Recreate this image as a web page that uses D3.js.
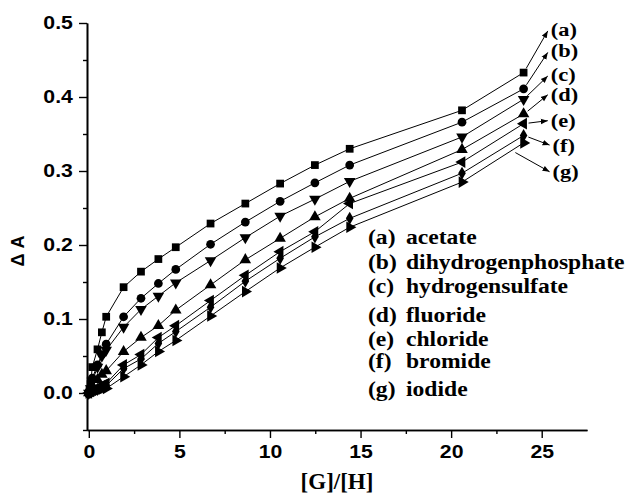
<!DOCTYPE html>
<html>
<head>
<meta charset="utf-8">
<script src="https://cdn.jsdelivr.net/npm/d3@7"></script>
<style>
  body { margin: 0; background: #fff; }
  svg { display: block; }
</style>
</head>
<body>
<div id="chart"></div>
<script>
// [G]/[H] ratios shared by every titration series
const ratios = [0, 0.1, 0.19, 0.48, 0.72, 0.96, 1.92, 2.88, 3.84, 4.8, 6.72, 8.64, 10.56, 12.48, 14.4, 20.6, 24.0];

const acetate     = [0, 0.012, 0.035, 0.059, 0.082, 0.103, 0.143, 0.164, 0.181, 0.197, 0.229, 0.256, 0.283, 0.308, 0.330, 0.382, 0.433];
const dihydrogen  = [0, 0.008, 0.020, 0.038, 0.052, 0.066, 0.103, 0.128, 0.148, 0.167, 0.201, 0.231, 0.259, 0.284, 0.308, 0.366, 0.411];
const hydrogensul = [0, 0.006, 0.016, 0.035, 0.050, 0.058, 0.089, 0.113, 0.131, 0.149, 0.179, 0.210, 0.239, 0.262, 0.286, 0.346, 0.397];
const fluoride    = [0, 0.004, 0.010, 0.018, 0.025, 0.030, 0.056, 0.075, 0.091, 0.112, 0.146, 0.180, 0.209, 0.238, 0.263, 0.329, 0.377];
const chloride    = [0, 0.002, 0.004, 0.007, 0.010, 0.013, 0.038, 0.052, 0.075, 0.091, 0.125, 0.159, 0.191, 0.218, 0.256, 0.312, 0.364];
const bromide     = [0, 0.001, 0.003, 0.005, 0.008, 0.010, 0.033, 0.046, 0.067, 0.083, 0.116, 0.151, 0.182, 0.211, 0.236, 0.297, 0.348];
const iodide      = [0, 0.000, 0.001, 0.003, 0.005, 0.006, 0.022, 0.038, 0.056, 0.071, 0.104, 0.137, 0.169, 0.197, 0.224, 0.285, 0.338];

const letters = ['a', 'b', 'c', 'd', 'e', 'f', 'g'];
const names = ['acetate', 'dihydrogenphosphate', 'hydrogensulfate', 'fluoride', 'chloride', 'bromide', 'iodide'];
const seriesValues = [acetate, dihydrogen, hydrogensul, fluoride, chloride, bromide, iodide];

const xTicks = [0, 5, 10, 15, 20, 25];
const yTicks = [0.0, 0.1, 0.2, 0.3, 0.4, 0.5];

const width = 632, height = 500;
const svg = d3.select('#chart').append('svg')
  .attr('width', width)
  .attr('height', height);

const x = d3.scaleLinear().domain([-0.1, 27.5]).range([87, 587]);
const y = d3.scaleLinear().domain([-0.05, 0.5]).range([430, 23]);

// the original figure is a bit wider than tall, so text gets a horizontal stretch
const stretch = 1.18;

// marker shapes: square, circle, down tri, up tri, left tri, diamond, right tri
const shapes = [
  {type: d3.symbolSquare, size: 60, rot: 0},
  {type: d3.symbolCircle, size: 60, rot: 0},
  {type: d3.symbolTriangle, size: 58, rot: 180},
  {type: d3.symbolTriangle, size: 58, rot: 0},
  {type: d3.symbolTriangle, size: 58, rot: -90},
  {type: d3.symbolDiamond, size: 50, rot: 0},
  {type: d3.symbolTriangle, size: 58, rot: 90}
];

const series = seriesValues.map((vals, i) => ({
  key: letters[i],
  name: names[i],
  shape: shapes[i],
  points: vals.map((v, j) => ({x: ratios[j], y: v}))
}));

// axes
const sansBold = '"Liberation Sans", Arial, sans-serif';
const serifBold = '"Liberation Serif", "Times New Roman", serif';

function styleAxis(g) {
  g.selectAll('path.domain').attr('stroke', '#000').attr('stroke-width', 1.6);
  g.selectAll('.tick line').attr('stroke', '#000').attr('stroke-width', 1.4);
  g.selectAll('.tick text')
    .attr('fill', '#000')
    .attr('transform', 'scale(' + stretch + ',1)')
    .style('font-family', sansBold)
    .style('font-weight', 'bold')
    .style('font-size', '18px');
}

svg.append('g')
  .attr('transform', 'translate(0,' + y(-0.05) + ')')
  .call(d3.axisBottom(x).tickValues(d3.range(2.5, 27.5, 5)).tickSize(4).tickSizeOuter(0).tickFormat(''))
  .call(styleAxis);
svg.append('g')
  .attr('transform', 'translate(0,' + y(-0.05) + ')')
  .call(d3.axisBottom(x).tickValues(xTicks).tickSize(8).tickSizeOuter(0).tickPadding(7))
  .call(styleAxis);

svg.append('g')
  .attr('transform', 'translate(' + x(-0.1) + ',0)')
  .call(d3.axisLeft(y).tickValues(d3.range(-0.05, 0.5, 0.1)).tickSize(4).tickSizeOuter(0).tickFormat(''))
  .call(styleAxis);
svg.append('g')
  .attr('transform', 'translate(' + x(-0.1) + ',0)')
  .call(d3.axisLeft(y).tickValues(yTicks).tickSize(8).tickSizeOuter(0).tickPadding(4).tickFormat(d3.format('.1f')))
  .call(styleAxis);

// axis titles
svg.append('text')
  .attr('x', (x.range()[0] + x.range()[1]) / 2)
  .attr('y', 489)
  .attr('text-anchor', 'middle')
  .style('font-family', serifBold)
  .style('font-weight', 'bold')
  .style('font-size', '23px')
  .text('[G]/[H]');

svg.append('text')
  .attr('transform', 'translate(24,251) rotate(-90)')
  .attr('text-anchor', 'middle')
  .style('font-family', sansBold)
  .style('font-weight', 'bold')
  .style('font-size', '18px')
  .text('\u0394 A');

// lines and markers
const line = d3.line().x(d => x(d.x)).y(d => y(d.y));

const gSeries = svg.append('g')
  .selectAll('g')
  .data(series)
  .enter()
  .append('g');

gSeries.append('path')
  .attr('d', d => line(d.points))
  .attr('fill', 'none')
  .attr('stroke', '#000')
  .attr('stroke-width', 1);

gSeries.each(function(s) {
  d3.select(this).selectAll('path.mk')
    .data(s.points)
    .enter()
    .append('path')
    .attr('class', 'mk')
    .attr('d', d3.symbol().type(s.shape.type).size(s.shape.size))
    .attr('transform', d => 'translate(' + x(d.x) + ',' + y(d.y) + ') rotate(' + s.shape.rot + ')')
    .attr('fill', '#000');
});

// arrow annotations: start in data units, label position in data units
const callouts = [
  {key: 'a', from: [24.0, 0.433], to: [25.5, 0.492]},
  {key: 'b', from: [24.0, 0.411], to: [25.5, 0.463]},
  {key: 'c', from: [24.0, 0.397], to: [25.5, 0.431]},
  {key: 'd', from: [24.0, 0.377], to: [25.5, 0.403]},
  {key: 'e', from: [24.0, 0.364], to: [25.5, 0.368]},
  {key: 'f', from: [24.0, 0.348], to: [25.6, 0.335]},
  {key: 'g', from: [23.3, 0.328], to: [25.6, 0.299]}
];

svg.append('defs').append('marker')
  .attr('id', 'head')
  .attr('viewBox', '0 0 10 10')
  .attr('refX', 10)
  .attr('refY', 5)
  .attr('markerWidth', 7)
  .attr('markerHeight', 7)
  .attr('markerUnits', 'userSpaceOnUse')
  .attr('orient', 'auto')
  .append('path')
  .attr('d', 'M0,1 L10,5 L0,9 Z')
  .attr('fill', '#000');

function stretchedText(parent, px, py, str, family, size) {
  return parent.append('text')
    .attr('transform', 'translate(' + px + ',' + py + ') scale(' + stretch + ',1)')
    .attr('dy', '0.35em')
    .style('font-family', family)
    .style('font-weight', 'bold')
    .style('font-size', size)
    .text(str);
}

const callG = svg.append('g');
callouts.forEach(c => {
  const x0 = x(c.from[0]), y0 = y(c.from[1]);
  const x1 = x(c.to[0]), y1 = y(c.to[1]);
  const dx = x1 - x0, dy = y1 - y0, len = Math.hypot(dx, dy);
  callG.append('line')
    .attr('x1', x0 + dx / len * 5)
    .attr('y1', y0 + dy / len * 5)
    .attr('x2', x1 - 3)
    .attr('y2', y1 + (c.key === 'a' || c.key === 'b' || c.key === 'c' ? 2 : 0))
    .attr('stroke', '#000')
    .attr('stroke-width', 1)
    .attr('marker-end', 'url(#head)');
  stretchedText(callG, x1, y1, '(' + c.key + ')', serifBold, '19px');
});

// legend
const legendTop = [237, 262, 286, 315, 339, 361, 389];
const legend = svg.append('g');
series.forEach((s, i) => {
  stretchedText(legend, 368, legendTop[i], '(' + s.key + ')', serifBold, '20px');
  stretchedText(legend, 406, legendTop[i], s.name, serifBold, '20px');
});
</script>
</body>
</html>
